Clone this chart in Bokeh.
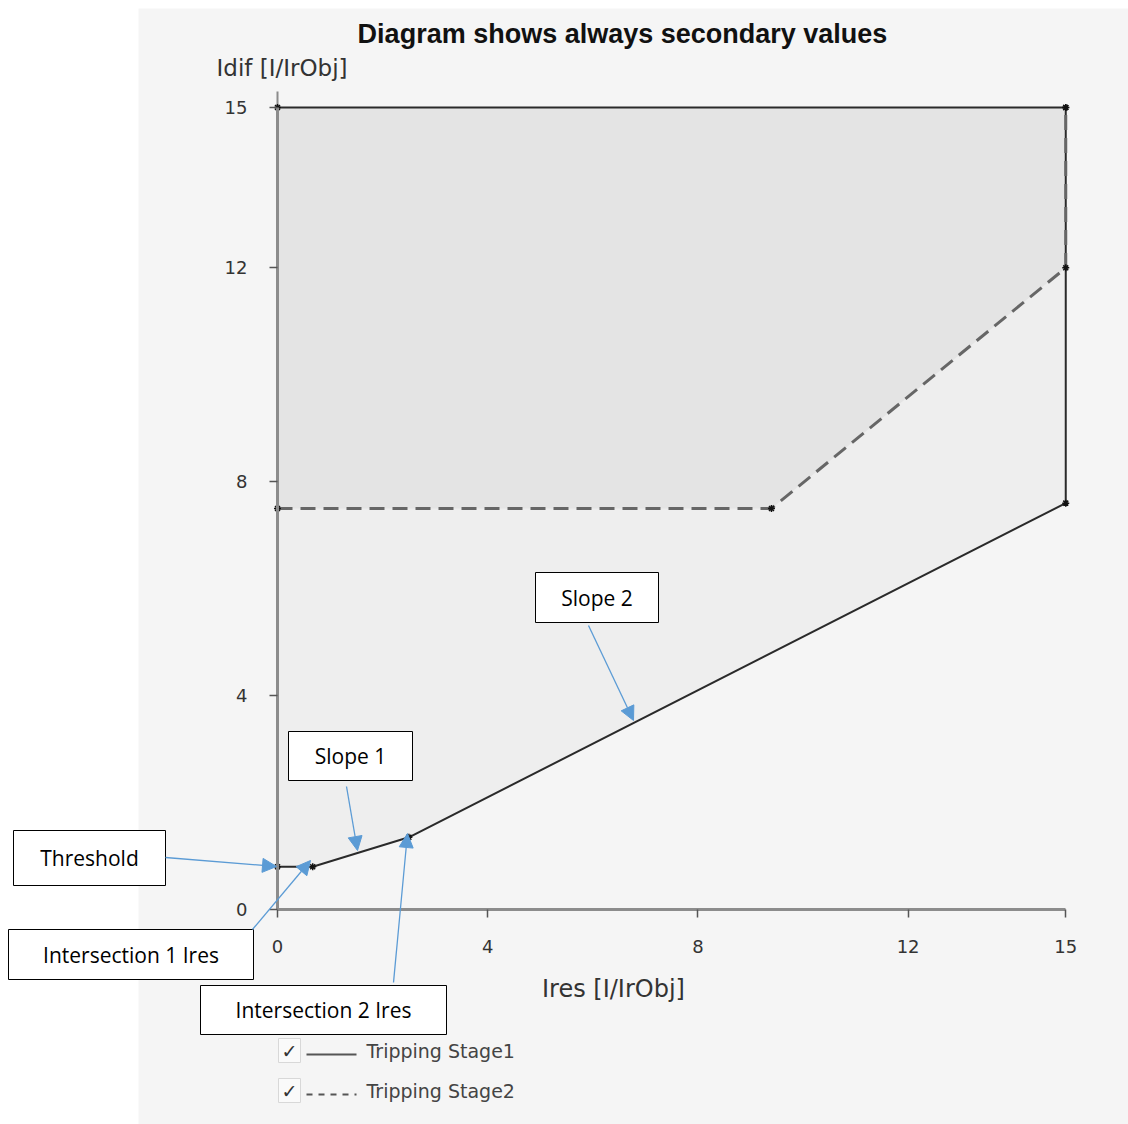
from bokeh.plotting import figure
from bokeh.models import Range1d, LinearAxis, FixedTicker, Arrow, NormalHead
from bokeh.core.properties import value
from bokeh.embed import file_html
from bokeh.resources import INLINE

# ---- data ----
ires_stage1 = [0, 0.67, 2.5, 15, 15, 0]
idif_stage1 = [0.8, 0.8, 1.35, 7.6, 15, 15]
ires_stage2 = [0, 9.4, 15, 15]
idif_stage2 = [7.5, 7.5, 12, 15]
tick_values = [0, 4, 8, 12, 15]
title_text = "Diagram shows always secondary values"
x_label = "Ires [I/IrObj]"
y_label = "Idif [I/IrObj]"
legend_labels = ["Tripping Stage1", "Tripping Stage2"]

# ---- layout helpers (page pixels -> data units) ----
W, H = 1128, 1124
PX0, PY0 = 0, 0
OX, OY, SX, SY = 277.0, 909.0, 52.55, 53.47
def dx(px): return (px - OX) / SX
def dy(py): return (OY - py) / SY

p = figure(width=W, height=H, output_backend="svg", toolbar_location=None,
           x_range=Range1d(dx(PX0), dx(PX0 + W)), y_range=Range1d(dy(PY0 + H), dy(PY0)),
           min_border=0, x_axis_type=None, y_axis_type=None)
p.outline_line_color = None
p.background_fill_color = "white"
p.border_fill_color = "white"
p.grid.visible = False

# gray panel
p.quad(left=dx(138), right=dx(1135), top=dy(8), bottom=dy(1130),
       fill_color="#f5f5f5", line_color=None)

# filled regions
p.patch(ires_stage1, idif_stage1, fill_color="#eeeeee", line_color=None)
p.patch(ires_stage2 + [0], idif_stage2 + [15], fill_color="#e4e4e4", line_color=None)

# axes at data zero
xa = LinearAxis(fixed_location=0, bounds=(0, 15), ticker=FixedTicker(ticks=tick_values))
ya = LinearAxis(fixed_location=0, bounds=(0, 15), ticker=FixedTicker(ticks=tick_values))
for ax in (xa, ya):
    ax.axis_line_color = "#8c8c8c"
    ax.axis_line_width = 3
    ax.major_tick_line_color = "#555555"
    ax.major_tick_line_width = 1.5
    ax.major_tick_out = 8
    ax.major_tick_in = 0
    ax.minor_tick_line_color = None
    ax.major_label_text_font = "DejaVu Sans"
    ax.major_label_text_font_size = "18px"
    ax.major_label_text_color = "#333333"
xa.major_label_standoff = 22
ya.major_label_standoff = 22
p.add_layout(xa, "below")
p.add_layout(ya, "left")
# small extension of y axis above 15
p.segment(x0=[0], y0=[15], x1=[0], y1=[15.3], line_color="#8c8c8c", line_width=2)

# lines
p.line(ires_stage1, idif_stage1, line_color="#2a2a2a", line_width=2)
p.line(ires_stage2, idif_stage2, line_color="#666666", line_width=3, line_dash="15 8")
p.scatter(ires_stage1, idif_stage1, marker="asterisk", size=7, line_color="#111111", line_width=1.5)
p.scatter(ires_stage2, idif_stage2, marker="asterisk", size=7, line_color="#111111", line_width=1.5)

# titles and axis labels
p.text(x=[dx(622)], y=[dy(33)], text=[title_text], text_font=value("Liberation Sans"),
       text_font_style="bold", text_font_size="27px", text_color="#111111",
       text_align="center", text_baseline="middle")
p.text(x=[dx(216)], y=[dy(67)], text=[y_label], text_font=value("DejaVu Sans"),
       text_font_size="23px", text_color="#333333", text_align="left", text_baseline="middle")
p.text(x=[dx(613)], y=[dy(988)], text=[x_label], text_font=value("DejaVu Sans"),
       text_font_size="24px", text_color="#333333", text_align="center", text_baseline="middle")

# legend (checkbox style)
for i, (lab, dash) in enumerate(zip(legend_labels, ["solid", "6 6"])):
    cy = 1050 + 40 * i
    p.quad(left=dx(278), right=dx(300), top=dy(cy - 12), bottom=dy(cy + 12),
           fill_color="#fafafa", line_color="#d8d8d8", line_width=1)
    p.text(x=[dx(289)], y=[dy(cy)], text=["\u2713"], text_font=value("DejaVu Sans"),
           text_font_size="19px", text_color="#333333", text_align="center", text_baseline="middle")
    p.segment(x0=[dx(306)], y0=[dy(cy + 4)], x1=[dx(356)], y1=[dy(cy + 4)],
              line_color="#555555", line_width=2, line_dash=dash)
    p.text(x=[dx(366)], y=[dy(cy)], text=[lab], text_font=value("DejaVu Sans"),
           text_font_size="19px", text_color="#444444", text_align="left", text_baseline="middle")

# callout boxes
boxes = [
    ("Threshold", 13, 165, 830, 885),
    ("Intersection 1 Ires", 8, 253, 929, 979),
    ("Slope 1", 288, 412, 731, 780),
    ("Slope 2", 535, 658, 572, 622),
    ("Intersection 2 Ires", 200, 446, 985, 1034),
]
for lab, l, r, t, b in boxes:
    p.quad(left=dx(l), right=dx(r), top=dy(t), bottom=dy(b),
           fill_color="white", line_color="black", line_width=1)
    p.text(x=[dx((l + r) / 2)], y=[dy((t + b) / 2)], text=[lab], text_font=value("Open Sans"),
           text_font_size="21px", text_color="black", text_align="center", text_baseline="middle")

arrows = [
    (165, 857, 276, 866),
    (252, 929, 310, 860),
    (346, 786, 357, 850),
    (588, 625, 633, 720),
    (393, 982, 407, 833),
]
for x0, y0, x1, y1 in arrows:
    p.add_layout(Arrow(end=NormalHead(size=14, fill_color="#5b9bd5", line_color="#5b9bd5"),
                       x_start=dx(x0), y_start=dy(y0), x_end=dx(x1), y_end=dy(y1),
                       line_color="#5b9bd5", line_width=1.3))

open("out.html", "w").write(file_html(p, INLINE))
